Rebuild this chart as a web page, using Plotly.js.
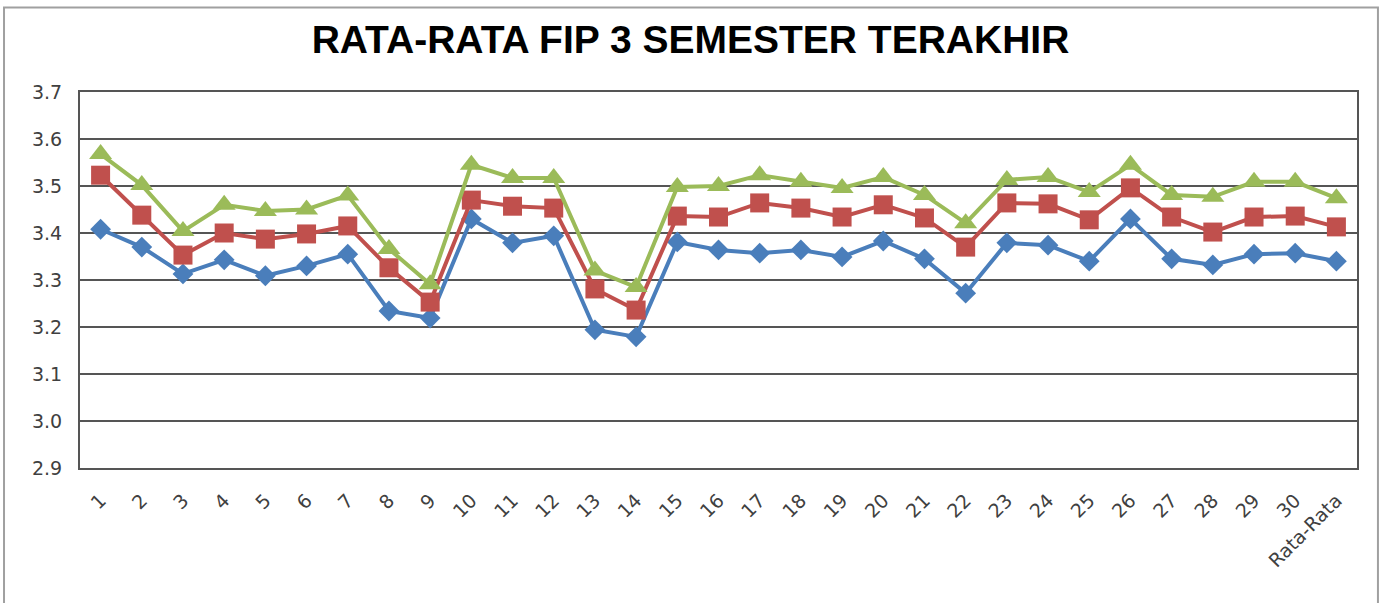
<!DOCTYPE html>
<html><head><meta charset="utf-8">
<script src="https://cdn.plot.ly/plotly-3.0.1.min.js"></script>
<style>body{margin:0;background:#fff}#chart{width:1381px;height:603px}</style>
</head><body><div id="chart"></div>
<script>
const categories = ['1','2','3','4','5','6','7','8','9','10','11','12','13','14','15','16','17','18','19','20','21','22','23','24','25','26','27','28','29','30','Rata-Rata'];
const seriesBlue = [3.408,3.370,3.313,3.343,3.309,3.330,3.355,3.234,3.219,3.430,3.379,3.394,3.194,3.179,3.381,3.364,3.357,3.364,3.349,3.383,3.345,3.272,3.379,3.374,3.340,3.430,3.345,3.332,3.355,3.357,3.340];
const seriesRed = [3.523,3.438,3.353,3.400,3.387,3.398,3.415,3.326,3.253,3.470,3.457,3.453,3.281,3.236,3.436,3.434,3.464,3.453,3.434,3.460,3.432,3.370,3.464,3.462,3.428,3.496,3.434,3.402,3.434,3.436,3.413];
const seriesGreen = [3.568,3.502,3.404,3.460,3.447,3.450,3.480,3.366,3.291,3.545,3.517,3.517,3.320,3.285,3.498,3.500,3.523,3.509,3.496,3.519,3.481,3.421,3.513,3.519,3.487,3.545,3.481,3.477,3.509,3.509,3.474];
const yTicks = [2.9,3.0,3.1,3.2,3.3,3.4,3.5,3.6,3.7];

function tr(y, color, symbol, size) {
  return {x: categories, y: y, type: 'scatter', mode: 'lines+markers',
    line: {color: color, width: 4}, marker: {symbol: symbol, size: size, color: color}};
}
const data = [
  tr(seriesBlue, '#4A7EBB', 'diamond', 16),
  tr(seriesRed, '#C0504D', 'square', 19),
  tr(seriesGreen, '#9BBB59', 'triangle-up', 20)
];
const layout = {
  width: 1381, height: 603,
  margin: {l: 80, r: 24, t: 92, b: 135},
  paper_bgcolor: '#fff', plot_bgcolor: '#fff',
  showlegend: false,
  title: {text: 'RATA-RATA FIP 3 SEMESTER TERAKHIR', x: 0.5, xanchor: 'center', y: 0.935, yanchor: 'middle',
    font: {family: 'Liberation Sans, Arial', size: 39, color: '#000', weight: 700}},
  xaxis: {type: 'category', range: [-0.5, 30.5], tickangle: -45, showgrid: false,
    showline: true, linecolor: '#555', linewidth: 2, mirror: true, ticks: '', ticklabelstandoff: 12,
    tickfont: {family: 'DejaVu Sans, Verdana', size: 19, color: '#404040'}},
  yaxis: {range: [2.9, 3.7], tickvals: yTicks, ticktext: yTicks.map(v => v.toFixed(1)),
    showgrid: true, gridcolor: '#555', gridwidth: 2, zeroline: false,
    showline: true, linecolor: '#555', linewidth: 2, mirror: true, ticks: '', ticklabelstandoff: 12,
    tickfont: {family: 'DejaVu Sans, Verdana', size: 19, color: '#404040'}},
  shapes: [{type: 'rect', xref: 'paper', yref: 'paper', x0: -0.0595, x1: 1.0164, y0: -0.6, y1: 1.225,
    line: {color: '#a0a0a0', width: 2}, layer: 'below'}]
};
Plotly.newPlot('chart', data, layout, {displayModeBar: false});
</script></body></html>
